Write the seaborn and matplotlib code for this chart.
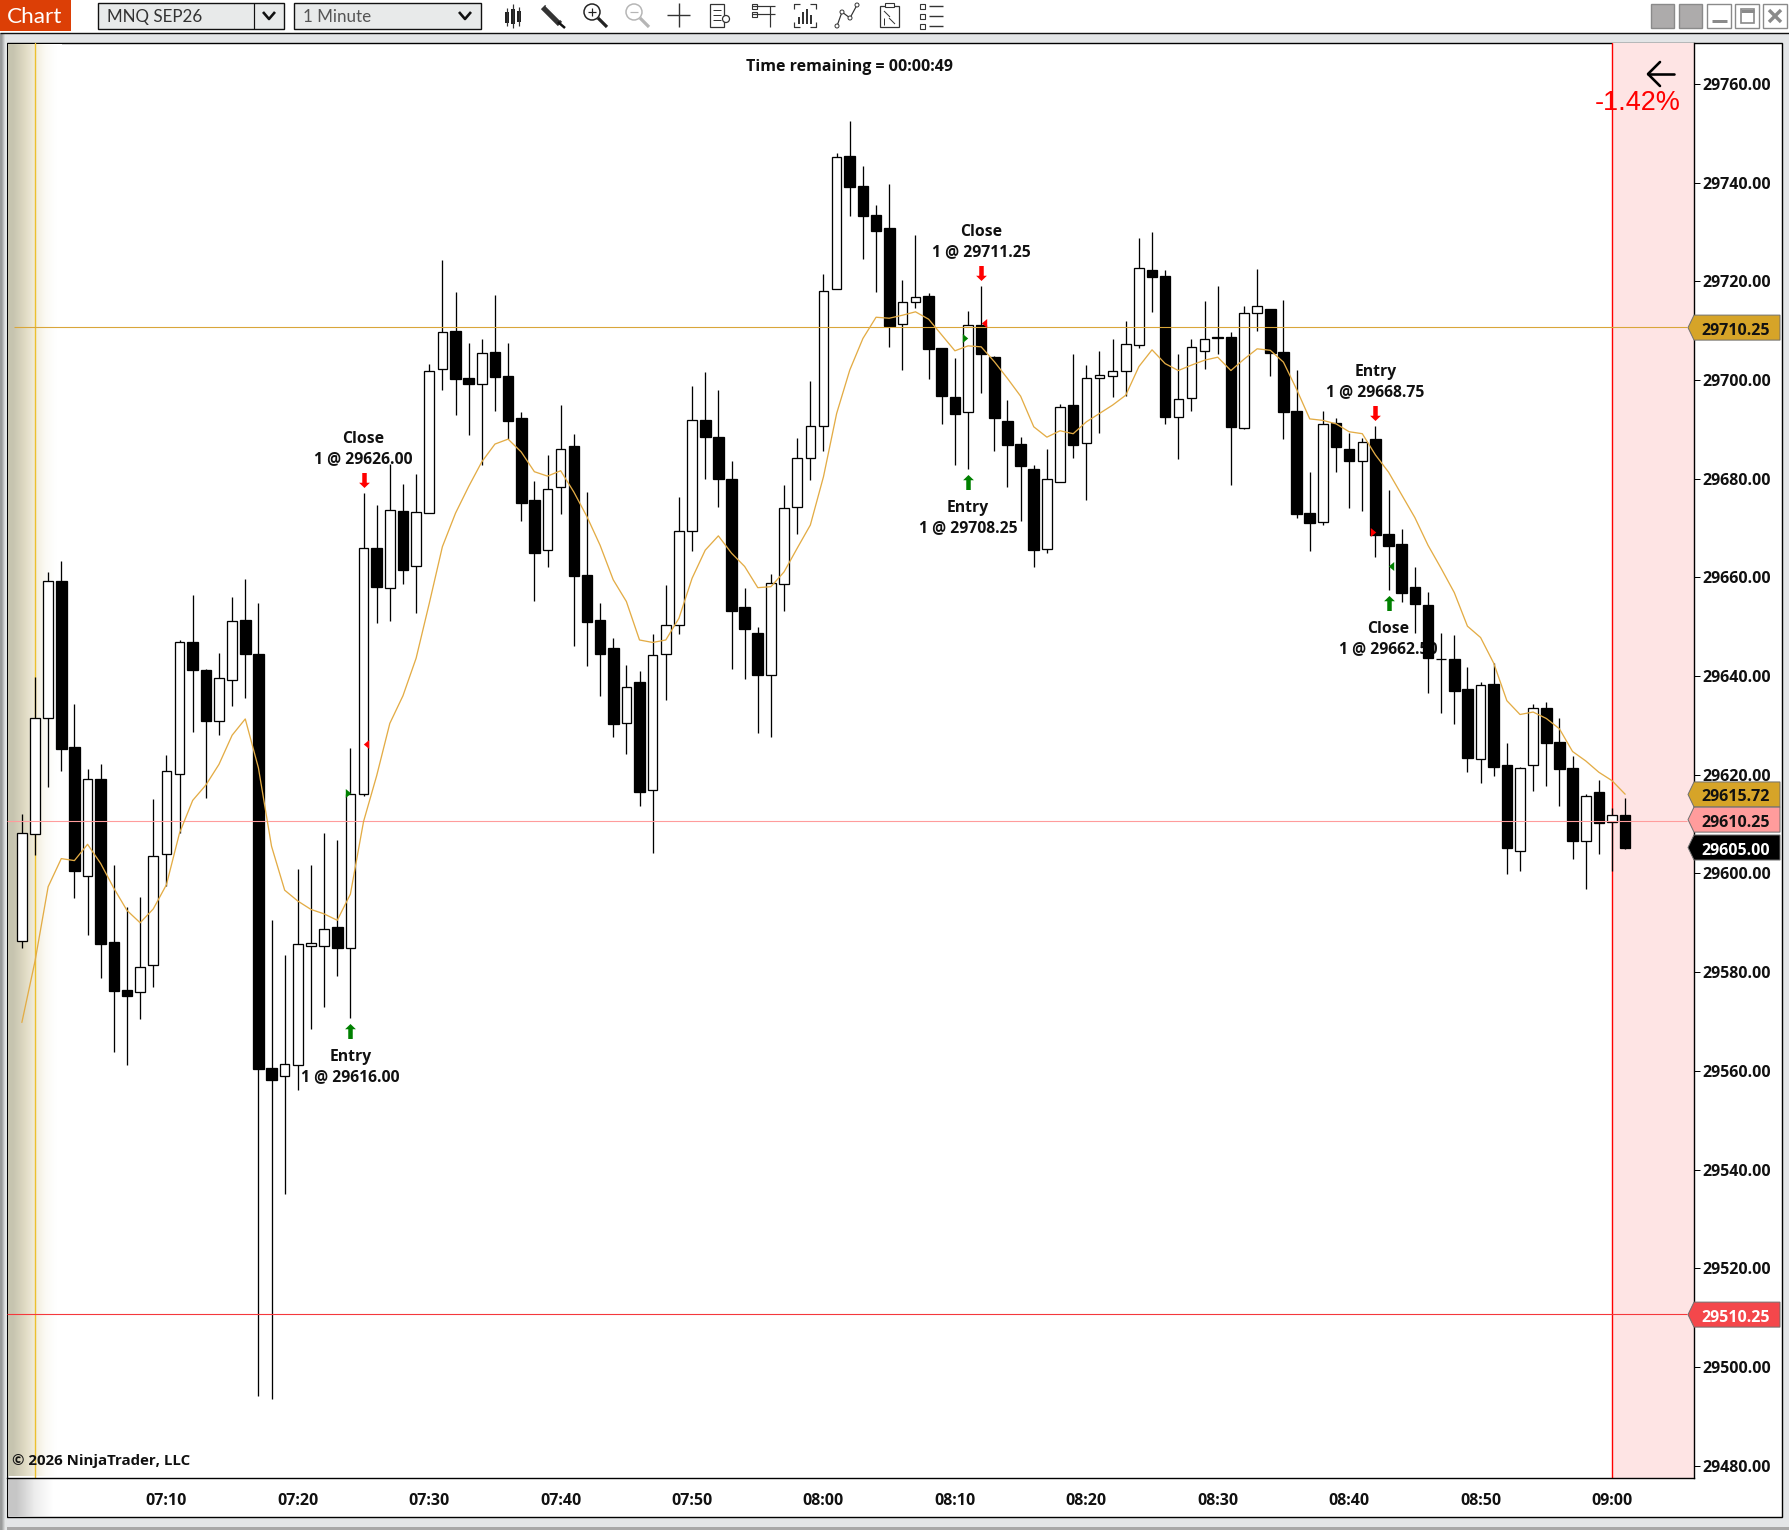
import numpy as np
import pandas as pd
import matplotlib
matplotlib.use("Agg")
import matplotlib.pyplot as plt
import seaborn as sns
from matplotlib.patches import Polygon, Rectangle, Circle
from matplotlib.path import Path
from matplotlib.transforms import IdentityTransform

# minute bars, index 0 is 06:59
opens = [29586.4,29607.9,29631.4,29659.2,29625.7,29599.5,29619.1,29586.1,29576.3,29575.9,
29581.4,29603.9,29620.2,29646.9,29641.2,29630.9,29639.1,29651.3,29644.5,29560.6,
29559.0,29561.1,29585.3,29585.3,29589.1,29584.8,29616.0,29665.9,29657.9,29673.4,
29662.2,29673.0,29702.3,29709.9,29700.4,29699.2,29705.65,29700.8,29692.3,29675.65,
29665.6,29678.2,29686.6,29660.5,29651.35,29645.7,29630.4,29638.8,29617.0,29644.5,
29650.4,29669.3,29691.9,29688.4,29679.9,29654.0,29648.7,29640.3,29658.7,29674.2,
29684.1,29690.7,29718.35,29745.4,29739.3,29733.4,29730.8,29711.4,29715.85,29717.0,
29706.5,29696.5,29693.4,29711.05,29704.6,29691.7,29687.0,29681.9,29665.8,29679.4,
29694.9,29687.3,29700.3,29700.7,29701.9,29707.1,29722.3,29721.1,29692.5,29696.4,
29705.9,29708.6,29708.7,29690.3,29713.5,29714.4,29705.65,29693.7,29673.0,29671.3,
29691.25,29686.0,29683.65,29688.0,29668.8,29666.75,29658.0,29654.4,29643.45,29643.5,
29637.35,29623.2,29638.35,29622.0,29604.6,29621.9,29633.5,29626.6,29621.4,29606.65,
29616.45,29610.35,29611.75]
highs = [29612.0,29639.8,29661.1,29663.3,29634.3,29621.2,29622.2,29601.7,29593.1,29595.2,
29615.1,29624.0,29647.2,29656.4,29641.4,29644.6,29656.0,29659.7,29654.8,29590.5,
29583.4,29600.8,29601.7,29608.2,29606.7,29625.4,29677.0,29674.65,29683.0,29678.9,
29680.9,29703.2,29724.3,29717.8,29707.5,29708.3,29717.2,29707.5,29693.4,29679.5,
29684.8,29694.9,29689.0,29677.3,29654.8,29647.7,29642.2,29641.0,29648.45,29658.4,
29676.2,29698.7,29701.6,29698.0,29683.5,29657.9,29650.0,29660.7,29678.7,29688.3,
29699.8,29721.4,29746.0,29752.5,29743.3,29735.4,29739.7,29720.2,29729.35,29717.6,
29706.5,29704.4,29714.0,29719.0,29704.8,29695.9,29688.4,29682.7,29686.0,29695.2,
29705.2,29703.0,29705.8,29708.3,29711.9,29728.7,29730.0,29722.3,29705.2,29708.3,
29716.0,29719.0,29709.7,29715.0,29722.5,29714.4,29716.15,29702.0,29681.35,29693.7,
29692.3,29689.2,29688.25,29690.65,29677.7,29669.75,29662.1,29657.1,29648.7,29648.4,
29641.9,29638.8,29642.65,29626.45,29621.5,29634.25,29634.7,29631.45,29623.75,29616.15,
29618.95,29613.25,29615.25]
lows = [29584.9,29603.7,29617.5,29620.8,29595.0,29587.5,29578.8,29563.8,29561.1,29570.5,
29577.0,29597.5,29608.2,29628.7,29615.3,29628.0,29634.0,29635.6,29494.2,29493.6,
29535.1,29556.2,29568.5,29572.9,29579.2,29570.7,29615.7,29650.8,29651.2,29658.6,
29652.8,29673.0,29698.0,29692.8,29688.8,29682.8,29693.7,29688.0,29671.4,29655.2,
29662.1,29672.8,29646.1,29642.0,29636.0,29627.7,29624.2,29613.75,29604.2,29635.1,
29648.45,29665.3,29679.9,29674.2,29641.4,29639.4,29628.5,29627.7,29653.1,29668.8,
29679.7,29685.6,29718.35,29733.2,29724.5,29717.8,29706.7,29702.0,29714.6,29700.2,
29691.1,29682.7,29681.9,29697.3,29685.6,29678.3,29671.4,29662.1,29665.0,29679.4,
29684.2,29675.7,29689.2,29696.5,29696.7,29706.5,29713.8,29691.1,29684.0,29693.7,
29702.2,29705.2,29678.7,29690.0,29709.9,29700.8,29688.1,29672.1,29665.4,29670.5,
29681.35,29674.1,29673.5,29664.05,29657.5,29655.0,29648.8,29636.6,29632.5,29630.35,
29620.6,29618.35,29619.75,29599.95,29600.4,29616.8,29617.75,29613.65,29602.85,29596.75,
29603.95,29600.45,29604.85]
closes = [29608.1,29631.4,29659.2,29625.3,29600.5,29619.1,29585.6,29576.2,29575.2,29581.1,
29603.6,29620.7,29646.8,29641.2,29630.8,29639.5,29651.1,29644.5,29560.4,29558.1,
29561.3,29585.6,29585.9,29588.8,29584.9,29616.0,29666.0,29658.1,29673.6,29661.5,
29673.2,29701.9,29709.8,29700.25,29699.2,29705.4,29700.65,29691.7,29675.05,29664.9,
29677.8,29685.9,29660.3,29650.9,29644.5,29630.3,29637.7,29616.5,29644.35,29650.4,
29669.3,29691.8,29688.4,29679.9,29653.1,29649.5,29640.2,29658.8,29674.0,29684.1,
29690.6,29718.1,29745.1,29739.1,29733.2,29730.2,29710.9,29715.7,29716.7,29706.2,
29696.7,29693.1,29711.05,29705.2,29692.3,29686.8,29682.5,29665.5,29679.85,29694.6,
29686.8,29700.3,29700.9,29701.9,29707.2,29722.6,29720.8,29692.5,29696.1,29706.6,
29708.2,29708.4,29690.5,29713.5,29714.9,29705.4,29693.4,29672.8,29671.1,29691.15,
29686.5,29683.65,29687.5,29668.65,29666.35,29656.8,29654.6,29643.7,29643.35,29637.0,
29623.4,29638.1,29621.65,29605.05,29621.3,29633.6,29626.35,29621.15,29606.55,29615.75,
29610.25,29611.75,29605.25]
ema_values = [29569.8,29582.2,29597.3,29603.0,29602.6,29605.9,29602.0,29597.0,29592.5,29590.0,
29592.8,29597.7,29608.2,29614.8,29617.9,29622.1,29628.0,29631.3,29621.4,29605.5,
29596.6,29594.4,29592.7,29591.8,29590.5,29595.8,29610.5,29619.8,29630.4,29636.0,
29643.6,29654.7,29666.2,29673.0,29678.4,29683.4,29687.0,29688.0,29685.4,29681.4,
29680.5,29681.6,29677.3,29672.3,29666.5,29659.5,29655.1,29647.3,29646.8,29647.3,
29651.7,29659.8,29665.5,29668.4,29664.9,29662.2,29657.9,29658.1,29661.1,29665.9,
29670.6,29680.4,29693.2,29702.0,29708.4,29712.7,29712.5,29713.1,29713.8,29712.3,
29709.1,29705.9,29706.9,29706.7,29703.7,29700.3,29696.7,29690.5,29688.4,29689.7,
29689.1,29691.5,29693.2,29694.9,29696.9,29702.7,29706.1,29703.3,29701.9,29703.0,
29704.0,29704.6,29701.9,29704.2,29706.3,29706.0,29703.6,29698.1,29692.1,29691.8,
29691.1,29689.5,29689.1,29684.8,29681.3,29676.7,29672.1,29666.5,29661.8,29656.9,
29650.1,29647.8,29642.6,29635.0,29632.2,29632.7,29631.4,29629.3,29624.7,29622.8,
29620.5,29618.8,29616.05]

time_ticks = [11, 21, 31, 41, 51, 61, 71, 81, 91, 101, 111, 121]
time_labels = ["07:10", "07:20", "07:30", "07:40", "07:50", "08:00",
               "08:10", "08:20", "08:30", "08:40", "08:50", "09:00"]
price_ticks = list(range(29480, 29780, 20))

# trade arrows: bar, arrow price, first line, second line
up_bars = [25, 72, 104]
up_prices = [29568.1, 29679.4, 29654.8]
up_titles = ["Entry", "Entry", "Close"]
up_fills = ["1 @ 29616.00", "1 @ 29708.25", "1 @ 29662.50"]
down_bars = [26, 73, 103]
down_prices = [29679.7, 29721.6, 29693.2]
down_titles = ["Close", "Close", "Entry"]
down_fills = ["1 @ 29626.00", "1 @ 29711.25", "1 @ 29668.75"]

# small execution triangles on the bars
green_right = ([25, 72], [29616.3, 29708.5])
red_left = ([26, 73], [29626.3, 29711.6])
red_right = ([103], [29669.1])
green_left = ([104], [29662.3])

gold_level, pink_level, red_level = 29710.65, 29610.65, 29510.65
tags = [(29710.6, "29710.25", "#d6a428", "#111111"),
        (29616.0, "29615.72", "#d6a428", "#111111"),
        (29610.9, "29610.25", "#ff9c9c", "#111111"),
        (29605.25, "29605.00", "#000000", "#ffffff"),
        (29510.6, "29510.25", "#f4474b", "#ffffff")]

W, H = 1790, 1530
PX = 0.72
sns.set_style("white")
plt.rcParams["font.family"] = ["Open Sans", "DejaVu Sans"]
fig = plt.figure(figsize=(W / 100, H / 100), dpi=100, facecolor="white")

# window chrome, drawn in pixel coordinates
bg = fig.add_axes([0, 0, 1, 1], zorder=0)
bg.set_xlim(0, W)
bg.set_ylim(H, 0)
bg.axis("off")


def box(x0, y0, x1, y1, **kw):
    bg.add_patch(Rectangle((x0, y0), x1 - x0, y1 - y0, **kw))


def seg(xs, ys, color="#222222", lw=1.6):
    bg.plot(xs, ys, color=color, lw=lw * PX, solid_capstyle="butt")


box(0, 33, W, H, fc="#e3e5e7", ec="none")
box(0, 1527, W, H, fc="#a8a8a8", ec="none")
seg([0, W], [33, 33], "#111111", 1.4)
box(7, 43, 1782, 1517, fc="white", ec="black", lw=1.0)
ramp = np.array([[[0.60, 0.61, 0.61]], [[0.89, 0.90, 0.90]]]).transpose(1, 0, 2)
bg.imshow(ramp, extent=(0, 7, 1530, 33), aspect="auto", interpolation="bilinear", zorder=1)
shade = np.array([[[0.78, 0.77, 0.69], [0.87, 0.85, 0.76], [0.95, 0.93, 0.86],
                   [0.985, 0.98, 0.96], [1, 1, 1]]])
bg.imshow(shade, extent=(8, 62, 1476, 44), aspect="auto", interpolation="bilinear", zorder=1)
strip = np.array([[[0.78, 0.78, 0.78], [0.93, 0.93, 0.93], [1, 1, 1]]])
bg.imshow(strip, extent=(8, 62, 1516, 1479), aspect="auto", interpolation="bilinear", zorder=1)
bg.set_xlim(0, W)
bg.set_ylim(H, 0)

# title bar
box(0, 0, 71, 31, fc="#dc3f06", ec="none")
bg.text(7, 16.5, "Chart", color="white", fontsize=22.5 * PX, family="Lato", va="center")
box(98, 3, 284, 29, fc="#e8eaea", ec="#111111", lw=1.0)
seg([254, 254], [3, 29], "#111111", 1.2)
box(294, 3, 481, 29, fc="#e8eaea", ec="#111111", lw=1.0)
bg.text(107, 17, "MNQ SEP26", color="#333333", fontsize=17 * PX, family="Lato", va="center")
bg.text(303, 17, "1 Minute", color="#555555", fontsize=17 * PX, family="Lato", va="center")
for cx in (269, 465):
    seg([cx - 6, cx, cx + 6], [12, 19, 12], "#111111", 2.6)

# toolbar icons
dk = "#333333"
seg([507, 507], [8, 26], dk, 1.2); box(505, 12, 509, 23, fc="#222222", ec="none")
seg([513, 513], [4, 28], dk, 1.2); box(511, 9, 515, 24, fc="#222222", ec="none")
seg([519, 519], [7, 26], dk, 1.2); box(517, 11, 521, 22, fc="#222222", ec="none")
seg([543, 560], [7, 24], dk, 6); seg([546, 560], [6, 20], "white", 1.2)
seg([558, 565], [22, 28], "#111111", 2.5)
for cx, col in ((592, "#222222"), (634, "#b5b5b5")):
    bg.add_patch(Circle((cx, 12), 8, fc="none", ec=col, lw=1.5 * PX))
    seg([cx + 6, cx + 15], [18, 27], col, 3.2)
    seg([cx - 4, cx + 4], [12, 12], col, 1.2)
seg([592, 592], [8, 16], "#222222", 1.2)
seg([667, 690], [15, 15], dk, 1.4); seg([679, 679], [3, 27], dk, 1.4)
box(710, 4, 724, 27, fc="none", ec=dk, lw=0.9)
for yy in (10, 15, 20):
    seg([713, 721], [yy, yy], dk, 1.0)
bg.add_patch(Circle((726, 19), 3.5, fc="white", ec=dk, lw=0.9))
seg([752, 775], [6, 6], dk, 1.2); seg([752, 775], [14, 14], dk, 1.2)
seg([770, 770], [6, 27], dk, 1.2)
box(752, 4, 757, 9, fc="white", ec=dk, lw=0.8); box(752, 12, 757, 17, fc="white", ec=dk, lw=0.8)
seg([794, 794, 800], [9, 4, 4], dk, 1.2); seg([810, 816, 816], [4, 4, 9], dk, 1.2)
seg([794, 794, 800], [22, 27, 27], dk, 1.2); seg([810, 816, 816], [27, 27, 22], dk, 1.2)
for xx, top in ((799, 17), (803, 12), (807, 9), (811, 15)):
    seg([xx, xx], [top, 24], dk, 2)
seg([837, 842, 850, 857], [26, 12, 18, 5], dk, 1.2)
for xx, yy in ((837, 26), (842, 12), (850, 18), (857, 5)):
    bg.add_patch(Circle((xx, yy), 2, fc="white", ec=dk, lw=0.7, zorder=3))
box(880, 6, 899, 27, fc="none", ec=dk, lw=0.9); box(885, 3, 894, 7, fc="white", ec=dk, lw=0.8)
seg([884, 890], [11, 17], dk, 1.0); seg([889, 895], [18, 24], dk, 1.0); seg([884, 884], [18, 25], dk, 1.0)
for yy in (6, 16, 26):
    box(920, yy - 2, 925, yy + 3, fc="white", ec=dk, lw=0.8)
    seg([929, 943], [yy, yy], dk, 1.4)

# window buttons
for x0 in (1651, 1679):
    box(x0, 4, x0 + 23, 28, fc="#adabab", ec="#8a8a8a", lw=1.0)
for x0 in (1707, 1735, 1763):
    box(x0, 4, x0 + 24, 28, fc="white", ec="#8a8a8a", lw=1.0)
seg([1712, 1727], [21, 21], "#8a8a8a", 3)
box(1741, 9, 1754, 23, fc="none", ec="#8a8a8a", lw=1.2); seg([1741, 1754], [11, 11], "#8a8a8a", 3)
seg([1769, 1781], [10, 22], "#8a8a8a", 3.4); seg([1769, 1781], [22, 10], "#8a8a8a", 3.4)

# price panel: 13.142 px per bar, 4.935 px per point
ax = fig.add_axes([7 / W, (H - 1478.3) / H, 1687 / W, 1435.3 / H], zorder=1)
ax.patch.set_visible(False)
ax.set_xlim(-1.13, 127.24)
ax.set_ylim(29477.43, 29768.27)
for name in ("left", "top"):
    ax.spines[name].set_visible(False)
for name in ("right", "bottom"):
    ax.spines[name].set_color("black")
    ax.spines[name].set_linewidth(1.0)

bars = pd.DataFrame({"minute": range(len(opens)), "open": opens, "high": highs,
                     "low": lows, "close": closes, "ema": ema_values})
up = bars[bars.close >= bars.open]
down = bars[bars.close < bars.open]

ax.axvspan(121, 127.24, color="#fee4e4", lw=0, zorder=0)
ax.axvline(121, color="#ff0000", lw=1.0, zorder=1)
ax.axvline(1, color="#ecc02e", lw=1.0, zorder=1)

ax.vlines(bars.minute, bars.low, bars.high, color="black", lw=1.3 * PX, zorder=3)
ax.bar(up.minute, up.close - up.open, bottom=up.open, width=9.6 / 13.142,
       facecolor="white", edgecolor="black", linewidth=1.3 * PX, zorder=4)
ax.bar(down.minute, down.close - down.open, bottom=down.open, width=10.6 / 13.142,
       facecolor="black", edgecolor="black", linewidth=1.3 * PX, zorder=4)

ax.hlines(gold_level, -0.56, 126.74, color="#d9a63a", lw=1.1 * PX, zorder=5)
ax.hlines(pink_level, -1.13, 126.74, color="#ff9c9c", lw=1.1 * PX, zorder=5)
ax.hlines(red_level, -1.13, 126.74, color="#f5383c", lw=1.1 * PX, zorder=5)
sns.lineplot(data=bars, x="minute", y="ema", ax=ax, color="#e3ac45", lw=1.3 * PX,
             errorbar=None, legend=False, zorder=6)

up_arrow = Path([(-0.3, -1), (-0.3, 0.3), (-0.72, 0.3), (0, 1), (0.72, 0.3), (0.3, 0.3),
                 (0.3, -1), (-0.3, -1)], closed=True)
down_arrow = Path([(x, -y) for x, y in up_arrow.vertices], closed=True)
right_tri = Path([(-0.6, 1), (0.6, 0), (-0.6, -1), (-0.6, 1)], closed=True)
left_tri = Path([(0.6, 1), (-0.6, 0), (0.6, -1), (0.6, 1)], closed=True)
ax.plot(up_bars, up_prices, ls="none", marker=up_arrow, ms=15 * PX, color="#008000", mew=0, zorder=7)
ax.plot(down_bars, down_prices, ls="none", marker=down_arrow, ms=15 * PX, color="#ff0000", mew=0, zorder=7)
ax.plot(np.array(green_right[0]) - 0.2, green_right[1], ls="none", marker=right_tri, ms=9 * PX, color="#008000", mew=0, zorder=7)
ax.plot(np.array(red_left[0]) + 0.2, red_left[1], ls="none", marker=left_tri, ms=9 * PX, color="#ff0000", mew=0, zorder=7)
ax.plot(np.array(red_right[0]) - 0.2, red_right[1], ls="none", marker=right_tri, ms=9 * PX, color="#ff0000", mew=0, zorder=7)
ax.plot(np.array(green_left[0]) + 0.2, green_left[1], ls="none", marker=left_tri, ms=9 * PX, color="#008000", mew=0, zorder=7)


def note(bar, price, text, dy):
    # labels sit under the candles, they get cut by the bars in the original too
    ax.annotate(text, xy=(bar, price), xytext=(0, dy), textcoords="offset pixels",
                ha="center", va="center", fontsize=15.8 * PX, fontweight="bold",
                color="#111111", zorder=2)


for bar, price, title, fill in zip(up_bars, up_prices, up_titles, up_fills):
    note(bar, price, title, -26)
    note(bar, price, fill, -46)
for bar, price, title, fill in zip(down_bars, down_prices, down_titles, down_fills):
    note(bar, price, title, 41)
    note(bar, price, fill, 21)

ax.set_xticks(time_ticks, time_labels)
ax.set_yticks(price_ticks, [f"{p:.2f}" for p in price_ticks])
ax.yaxis.tick_right()
ax.tick_params(axis="x", length=5 * PX, width=1.0 * PX, pad=10 * PX, labelsize=16 * PX, color="black", labelcolor="#111111")
ax.tick_params(axis="y", length=6 * PX, width=1.0 * PX, pad=2 * PX, labelsize=16 * PX, color="black", labelcolor="#111111")
for label in ax.get_xticklabels() + ax.get_yticklabels():
    label.set_fontweight("bold")

ax.set_xlabel("")
ax.set_ylabel("")

bg.text(849, 67, "Time remaining = 00:00:49", ha="center", va="center", fontsize=16 * PX,
        fontweight="bold", color="#111111", zorder=5)
fig.text(12.5 / W, (H - 1461.5) / H, "\u00a9 2026 NinjaTrader, LLC", va="center", fontsize=15 * PX,
         fontweight="bold", color="#111111", zorder=8)
fig.text(1638 / W, (H - 103) / H, "-1.42%", ha="center", va="center", color="#ff0000",
         fontsize=27 * PX, family="Liberation Sans", zorder=8)
fig.add_artist(plt.Line2D([1674 / W, 1648 / W], [(H - 74) / H, (H - 74) / H], color="black", lw=2.6 * PX))
fig.add_artist(plt.Line2D([1660 / W, 1648 / W, 1660 / W], [(H - 62) / H, (H - 74) / H, (H - 86) / H], color="black", lw=2.6 * PX))

# value tags on the right of the price scale
for price, text, face, ink in tags:
    y = ax.transData.transform((0, price))[1]
    verts = [(1688, y), (1694, y + 12.5), (1780, y + 12.5), (1780, y - 12.5), (1694, y - 12.5)]
    fig.add_artist(Polygon(verts, closed=True, fc=face, ec="#6f6f6f", lw=0.7,
                           transform=IdentityTransform(), zorder=9))
    fig.text(1736, y - 3, text, color=ink, ha="center", va="center", fontsize=16 * PX,
             fontweight="bold", transform=IdentityTransform(), zorder=10)

fig.savefig("out.png", dpi=100)
